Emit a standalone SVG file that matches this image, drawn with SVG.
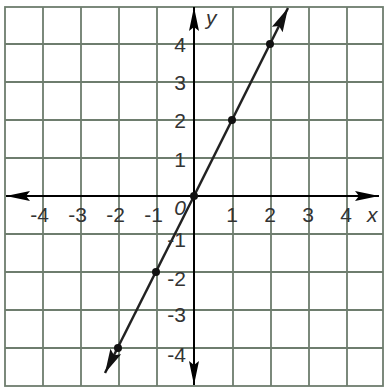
<svg xmlns="http://www.w3.org/2000/svg" width="384" height="388" viewBox="0 0 384 388">
<style>
.grid{stroke:#6e7d6e;stroke-width:1.8;fill:none}
.axis{stroke:#000;stroke-width:2;fill:none}
.lab{font-family:"Liberation Sans",Arial,sans-serif;font-size:21px;fill:#333}
.var{font-family:"Liberation Sans",Arial,sans-serif;font-size:21px;font-style:italic;fill:#333}
.dot{fill:#111}
</style>
<defs>
<marker id="ah" markerUnits="userSpaceOnUse" markerWidth="26" markerHeight="12" refX="24" refY="5" orient="auto" viewBox="0 0 26 10">
<path d="M0,0 L24,5 L0,10 L4,5 z" fill="#000"/>
</marker>
<marker id="lh" markerUnits="userSpaceOnUse" markerWidth="26" markerHeight="14" refX="24" refY="6" orient="auto" viewBox="0 0 26 12">
<path d="M0,0 L24,6 L0,12 L4,6 z" fill="#111"/>
</marker>
</defs>
<rect width="384" height="388" fill="#fff"/>
<g id="grid">
<rect x="5" y="7" width="378" height="379" fill="#ecf8eb" class="grid"/>
<path class="grid" d="M43,7V386M81,7V386M119,7V386M157,7V386M233,7V386M271,7V386M309,7V386M347,7V386M5,44H383M5,82H383M5,120H383M5,158H383M5,234H383M5,272H383M5,310H383M5,348H383"/>
</g>
<g id="connectors">
<line class="axis" x1="194" y1="196" x2="6" y2="196" marker-end="url(#ah)"/>
<line class="axis" x1="194" y1="196" x2="379" y2="196" marker-end="url(#ah)"/>
<line class="axis" x1="194" y1="196" x2="194" y2="7" marker-end="url(#ah)"/>
<line class="axis" x1="194" y1="196" x2="194" y2="385" marker-end="url(#ah)"/>
<line x1="194" y1="196" x2="288" y2="8" stroke="#222" stroke-width="2.5" marker-end="url(#lh)"/>
<line x1="194" y1="196" x2="105" y2="373" stroke="#222" stroke-width="2.5" marker-end="url(#lh)"/>
</g>
<g id="points">
<circle class="dot" cx="118" cy="348" r="4"/>
<circle class="dot" cx="156" cy="272" r="4"/>
<circle class="dot" cx="194" cy="196" r="4"/>
<circle class="dot" cx="232" cy="120" r="4"/>
<circle class="dot" cx="270" cy="44" r="4"/>
</g>
<g id="xlabels" class="lab" text-anchor="end">
<text x="49" y="222">-4</text>
<text x="87" y="222">-3</text>
<text x="125" y="222">-2</text>
<text x="163" y="222">-1</text>
<text x="238" y="222">1</text>
<text x="276" y="222">2</text>
<text x="314" y="222">3</text>
<text x="352" y="222">4</text>
</g>
<g id="ylabels" class="lab" text-anchor="end">
<text x="186" y="52">4</text>
<text x="186" y="90">3</text>
<text x="186" y="128">2</text>
<text x="186" y="167">1</text>
<text x="186" y="247">-1</text>
<text x="186" y="286">-2</text>
<text x="186" y="322">-3</text>
<text x="186" y="362">-4</text>
</g>
<text class="var" x="186" y="215" text-anchor="end">0</text>
<text class="var" x="206" y="25">y</text>
<text class="var" x="367" y="222">x</text>
</svg>
